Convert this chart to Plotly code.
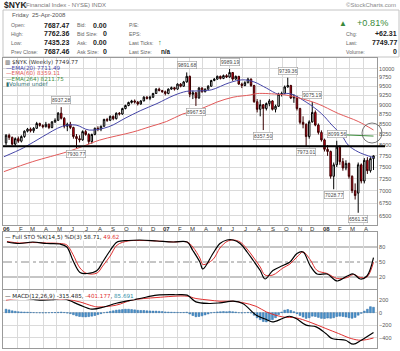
import numpy as np
import pandas as pd
import plotly.graph_objects as go

# ---------------- data ----------------
week = pd.date_range('2006-01-06', periods=121, freq='7D')

open_ = [8050, 8230, 8180, 8020, 8150, 8090, 8200, 8330, 8380, 8340, 8400, 8520, 8470,
         8440, 8500, 8420, 8560, 8600, 8780, 8650, 8450, 8500, 8420, 8200, 8150, 8120,
         8320, 8250, 8080, 8250, 8400, 8380, 8450, 8620, 8600, 8700, 8640, 8780, 8760,
         8900, 8980, 9060, 9100, 9070, 9020, 9100, 9200, 9170, 9200, 9300, 9420, 9380,
         9350, 9300, 9420, 9460, 9420, 9560, 9500, 9620, 9780, 9280, 9320, 9180, 9450,
         9350, 9420, 9500, 9660, 9700, 9780, 9720, 9800, 9760, 9890, 9700, 9780, 9560,
         9520, 9600, 9700, 9520, 9080, 8880, 9000, 8900, 9030, 9100, 8880, 8960, 9280,
         9300, 9480, 9520, 9180, 9200, 8900, 8550, 8500, 8200, 8560, 8800, 8480, 8300,
         8120, 7900, 7850, 7300, 7550, 7950, 7620, 7480, 7580, 7300, 7000, 6950, 7550,
         7200, 7650, 7420, 7687.47]
high = [8260, 8270, 8200, 8180, 8200, 8230, 8350, 8410, 8420, 8430, 8560, 8540, 8500,
        8560, 8520, 8580, 8650, 8810, 8937.28, 8680, 8540, 8560, 8440, 8260, 8230, 8350,
        8360, 8280, 8270, 8420, 8450, 8470, 8640, 8660, 8720, 8720, 8800, 8810, 8920,
        9000, 9080, 9130, 9140, 9100, 9120, 9230, 9230, 9240, 9320, 9450, 9460, 9400,
        9380, 9440, 9490, 9480, 9580, 9590, 9650, 9891.68, 9800, 9380, 9340, 9480, 9470,
        9440, 9530, 9680, 9730, 9800, 9800, 9830, 9840, 9989.19, 9900, 9800, 9790, 9600,
        9640, 9740, 9720, 9540, 9150, 9130, 9020, 9060, 9150, 9120, 9000, 9320, 9350,
        9520, 9739.36, 9540, 9280, 9240, 8920, 8700, 8520, 8600, 9075.19, 8850, 8520, 8350,
        8150, 8000, 7870, 7600, 8099.56, 7990, 7700, 7650, 7600, 7320, 7150, 7600, 7580,
        7700, 7720, 7720, 7762.36]
low = [8000, 8120, 7990, 7980, 8050, 8060, 8170, 8300, 8300, 8290, 8390, 8440, 8400,
       8420, 8380, 8400, 8530, 8580, 8620, 8400, 8330, 8380, 8150, 7930.77, 8060, 8100,
       8220, 8020, 8030, 8230, 8330, 8330, 8440, 8560, 8580, 8600, 8620, 8720, 8740,
       8880, 8960, 9030, 9030, 8980, 9000, 9090, 9140, 9120, 9180, 9290, 9360, 9320,
       9250, 9280, 9400, 9380, 9400, 9470, 9490, 9600, 9200, 9150, 8967.50, 9160, 9320,
       9330, 9400, 9490, 9640, 9680, 9690, 9700, 9730, 9740, 9650, 9680, 9540, 9450,
       9500, 9580, 9480, 9050, 8800, 8700, 8357.50, 8850, 8960, 8850, 8800, 8940, 9220,
       9280, 9460, 9150, 9050, 8850, 8500, 8400, 7973.01, 8150, 8540, 8450, 8250, 8080,
       7850, 7750, 7250, 7028.77, 7500, 7550, 7420, 7430, 7250, 6950, 6820, 6561.32, 7150,
       7150, 7350, 7380, 7435.23]
close = [8230, 8180, 8020, 8150, 8090, 8200, 8330, 8380, 8340, 8400, 8520, 8470, 8440,
         8500, 8420, 8560, 8600, 8780, 8650, 8450, 8500, 8420, 8200, 8150, 8120, 8320,
         8250, 8080, 8250, 8400, 8380, 8450, 8620, 8600, 8700, 8640, 8780, 8760, 8900,
         8980, 9060, 9100, 9070, 9020, 9100, 9200, 9170, 9200, 9300, 9420, 9380, 9350,
         9300, 9420, 9460, 9420, 9560, 9500, 9620, 9780, 9280, 9320, 9180, 9450, 9350,
         9420, 9500, 9660, 9700, 9780, 9720, 9800, 9760, 9890, 9700, 9780, 9560, 9520,
         9600, 9700, 9520, 9080, 8880, 9000, 8900, 9030, 9100, 8880, 8960, 9280, 9300,
         9480, 9520, 9180, 9200, 8900, 8550, 8500, 8200, 8560, 8800, 8480, 8300, 8120,
         7900, 7850, 7300, 7550, 7950, 7620, 7480, 7580, 7300, 7000, 6900, 7550, 7200,
         7650, 7420, 7687.46, 7749.77]

ema20_dates = ['2006-01-01', '2006-02-15', '2006-03-31', '2006-05-15', '2006-06-15', '2006-07-15',
               '2006-08-29', '2006-10-05', '2006-11-10', '2006-12-17', '2007-01-25', '2007-02-23',
               '2007-03-20', '2007-04-20', '2007-06-01', '2007-07-01', '2007-07-27', '2007-08-24',
               '2007-09-21', '2007-10-16', '2007-11-23', '2007-12-28', '2008-01-21', '2008-02-12',
               '2008-02-27', '2008-03-21', '2008-04-25']
ema20 = [7730, 7935, 8200, 8450, 8480, 8357, 8440, 8650, 8850, 9030, 9250, 9360,
         9370, 9400, 9600, 9680, 9620, 9450, 9280, 9300, 9070, 8770, 8480, 8235,
         8000, 7840, 7711.49]

ema60_dates = ['2006-01-01', '2006-03-08', '2006-05-25', '2006-07-01', '2006-08-08', '2006-10-23',
               '2006-12-01', '2007-01-08', '2007-02-14', '2007-03-25', '2007-05-03', '2007-06-09',
               '2007-07-18', '2007-08-03', '2007-09-24', '2007-10-16', '2007-12-16', '2008-02-05',
               '2008-03-21', '2008-04-25']
ema60 = [7400, 7620, 7840, 7970, 8116, 8310, 8440, 8570, 8760, 8880, 9070, 9200,
         9260, 9300, 9275, 9240, 9040, 8770, 8570, 8359.11]

ema264_dates = ['2008-02-08', '2008-03-07', '2008-04-04', '2008-04-25']
ema264 = [8245, 8235, 8222, 8211.75]

sto_dates = ['2006-01-08', '2006-02-06', '2006-03-08', '2006-04-09', '2006-05-09', '2006-05-25',
             '2006-06-08', '2006-06-24', '2006-07-10', '2006-08-02', '2006-08-15', '2006-09-01',
             '2006-09-17', '2006-10-12', '2006-11-08', '2006-12-17', '2007-01-23', '2007-02-24',
             '2007-03-09', '2007-03-25', '2007-04-01', '2007-04-24', '2007-05-10', '2007-05-26',
             '2007-06-09', '2007-06-25', '2007-07-11', '2007-07-25', '2007-08-10', '2007-08-21',
             '2007-09-08', '2007-10-01', '2007-10-17', '2007-11-02', '2007-11-16', '2007-12-02',
             '2007-12-18', '2008-01-10', '2008-02-02', '2008-02-25', '2008-03-10', '2008-03-26',
             '2008-04-10', '2008-04-25']
sto_k = [90, 87, 90, 87, 86, 80, 53, 29, 27, 33, 50, 73, 90, 93, 94, 92, 90, 90,
         73, 50, 36, 67, 87, 94, 94, 87, 70, 53, 33, 16, 33, 43, 50, 67, 70, 43,
         26, 26, 12, 22, 26, 16, 22, 58.71]
sto_d = [91, 88, 89, 88, 87, 84, 65, 38, 27, 28, 42, 62, 84, 92, 93, 92, 90, 90,
         80, 58, 45, 55, 78, 91, 94, 90, 76, 60, 40, 24, 24, 38, 46, 60, 70, 55,
         33, 27, 17, 19, 25, 19, 20, 49.62]

macd_dates = ['2006-01-06', '2006-02-06', '2006-03-24', '2006-04-20', '2006-05-12', '2006-05-26',
              '2006-06-24', '2006-07-21', '2006-08-18', '2006-09-15', '2006-11-08', '2006-12-17',
              '2007-01-29', '2007-02-24', '2007-03-16', '2007-04-15', '2007-05-10', '2007-06-09',
              '2007-07-01', '2007-08-01', '2007-08-24', '2007-09-07', '2007-09-30', '2007-10-16',
              '2007-10-31', '2007-11-23', '2007-12-16', '2008-01-07', '2008-01-21', '2008-02-05',
              '2008-02-21', '2008-03-10', '2008-03-28', '2008-04-25']
macd = [255, 240, 200, 205, 225, 205, 120, 56, 90, 150, 225, 278, 285, 278, 171, 146,
        156, 182, 146, -40, -108, -146, -92, -56, -92, -198, -225, -330, -410, -425,
        -437, -500, -437, -315.485]
signal_dates = ['2006-01-06', '2006-02-06', '2006-03-24', '2006-04-20', '2006-05-25', '2006-06-24',
                '2006-07-21', '2006-08-02', '2006-09-15', '2006-10-20', '2006-12-17', '2007-02-24',
                '2007-03-16', '2007-04-15', '2007-05-10', '2007-06-09', '2007-07-01', '2007-08-01',
                '2007-08-24', '2007-09-30', '2007-10-31', '2007-11-30', '2008-01-07', '2008-02-05',
                '2008-03-05', '2008-03-28', '2008-04-25']
signal = [200, 225, 215, 210, 210, 170, 110, 92, 120, 198, 241, 262, 225, 200, 182, 182,
          160, 100, 13, -67, -82, -146, -251, -330, -410, -437, -401.177]
hist = [55, 45, 30, 22, 15, 12, 10, 8, 5, 2, 0, -2, -3, -2, 0, 2, 3, 6, 10, 4, -6,
        -15, -32, -50, -60, -65, -67, -62, -55, -45, -30, -15, 0, 10, 20, 30, 40, 45, 50,
        55, 55, 50, 45, 38, 35, 35, 30, 28, 25, 25, 22, 18,
        12, 10, 8, 6, 5, 3, 4, 8, -20, -45, -65, -60, -50, -35, -20, -5, 5, 12, 15, 18, 15,
        20, 15, 10, 0, -5, 0, 5, -5, -40, -80, -110, -140, -146, -120, -110, -80, -30, 10,
        40, 50, 35, 15, -15, -45, -70, -90, -80, -55, -60, -75, -90,
        -92, -85, -88, -80, -60, -55, -60, -70, -80, -88, -75, -40, -10, 25, 55, 95, 85.691]

price_ticks = [6500, 6750, 7000, 7250, 7500, 7750, 8000, 8250, 8500, 8750, 9000, 9250,
               9500, 9750, 10000]
support_level = 7973.01

month_starts = pd.date_range('2006-01-01', periods=28, freq='MS')
month_labels = ['06', 'F', 'M', 'A', 'M', 'J', 'J', 'A', 'S', 'O', 'N', 'D',
                '07', 'F', 'M', 'A', 'M', 'J', 'J', 'A', 'S', 'O', 'N', 'D',
                '08', 'F', 'M', 'A']

# labelled extreme values: (week index, value, above?)
extremes = [(18, 8937.28, True), (23, 7930.77, False), (59, 9891.68, True), (62, 8967.50, False),
            (73, 9989.19, True), (84, 8357.50, False), (92, 9739.36, True), (100, 9075.19, True),
            (98, 7973.01, False), (108, 8099.56, True), (107, 7028.77, False), (115, 6561.32, False)]

# ---------------- figure ----------------
W, H = 400, 351
ML, MR, MT, MB = 3, 23, 58, 3
PW, PH = W - ML - MR, H - MT - MB


def px(X):
    return (X - ML) / PW


def py(Y):
    return (H - MB - Y) / PH


RED = '#e8001c'
EMA20C = '#4646a8'
EMA60C = '#e25a5a'
EMA264C = '#3f8f3f'
GRID = '#dadada'

fig = go.Figure()

fig.add_trace(go.Candlestick(
    x=week, open=open_, high=high, low=low, close=close,
    increasing=dict(line=dict(color='#000000', width=1), fillcolor='#ffffff'),
    decreasing=dict(line=dict(color='#3a0000', width=1), fillcolor=RED),
    whiskerwidth=0, xaxis='x', yaxis='y', hoverinfo='skip', showlegend=False))
fig.add_trace(go.Scatter(x=ema20_dates, y=ema20, mode='lines', line=dict(color=EMA20C, width=1, shape='spline'),
                         xaxis='x', yaxis='y', hoverinfo='skip'))
fig.add_trace(go.Scatter(x=ema60_dates, y=ema60, mode='lines', line=dict(color=EMA60C, width=1, shape='spline'),
                         xaxis='x', yaxis='y', hoverinfo='skip'))
fig.add_trace(go.Scatter(x=ema264_dates, y=ema264, mode='lines', line=dict(color=EMA264C, width=1),
                         xaxis='x', yaxis='y', hoverinfo='skip'))

fig.add_trace(go.Scatter(x=sto_dates, y=sto_d, mode='lines', line=dict(color='#e03030', width=1, shape='spline'),
                         xaxis='x2', yaxis='y2', hoverinfo='skip'))
fig.add_trace(go.Scatter(x=sto_dates, y=sto_k, mode='lines', line=dict(color='#000000', width=1.2, shape='spline'),
                         xaxis='x2', yaxis='y2', hoverinfo='skip'))

fig.add_trace(go.Bar(x=week, y=hist, marker=dict(color='#4b93cc', line=dict(color='#2a6aa5', width=0.5)),
                     xaxis='x3', yaxis='y3', hoverinfo='skip'))
fig.add_trace(go.Scatter(x=signal_dates, y=signal, mode='lines', line=dict(color='#e03030', width=1, shape='spline'),
                         xaxis='x3', yaxis='y3', hoverinfo='skip'))
fig.add_trace(go.Scatter(x=macd_dates, y=macd, mode='lines', line=dict(color='#000000', width=1.2, shape='spline'),
                         xaxis='x3', yaxis='y3', hoverinfo='skip'))

xcommon = dict(type='date', range=['2005-12-30', '2008-05-03'], showgrid=True, gridcolor=GRID,
               gridwidth=1, tick0='2006-01-01', dtick='M1', showticklabels=False, ticks='',
               showline=True, linecolor='#9a9a9a', linewidth=1, mirror=True, zeroline=False,
               rangeslider=dict(visible=False), fixedrange=True)
axfont = dict(family='Liberation Sans', size=5.5, color='#555555')

fig.update_layout(
    width=W, height=H, margin=dict(l=ML, r=MR, t=MT, b=MB, pad=0),
    paper_bgcolor='white', plot_bgcolor='white', showlegend=False,
    font=dict(family='Liberation Sans', size=6, color='#444444'),
    bargap=0.4,
    xaxis=dict(domain=[0, 1], anchor='y', **xcommon),
    xaxis2=dict(domain=[0, 1], anchor='y2', **xcommon),
    xaxis3=dict(domain=[0, 1], anchor='y3', **xcommon),
    yaxis=dict(domain=[py(225), 1], type='log', range=[np.log10(6331), np.log10(10318)],
               tickvals=price_ticks, ticktext=[str(v) for v in price_ticks], side='right',
               showgrid=True, gridcolor=GRID, showline=True, linecolor='#9a9a9a', mirror=True,
               ticks='', tickfont=axfont, zeroline=False, fixedrange=True),
    yaxis2=dict(domain=[py(289), py(232)], range=[-4, 110], tickvals=[20, 50, 80], side='right',
                showgrid=False, showline=True, linecolor='#9a9a9a', mirror=True, ticks='',
                tickfont=axfont, zeroline=False, fixedrange=True),
    yaxis3=dict(domain=[0, py(290)], range=[-560, 360], tickvals=[-400, -200, 0, 200], side='right',
                showgrid=True, gridcolor=GRID, showline=True, linecolor='#9a9a9a', mirror=True,
                ticks='', tickfont=axfont, zeroline=False, fixedrange=True),
)

shapes = []
# STO reference lines
for lvl, dash in [(80, 'solid'), (50, 'dashdot'), (20, 'solid')]:
    shapes.append(dict(type='line', xref='x2 domain', yref='y2', x0=0, x1=1, y0=lvl, y1=lvl,
                       line=dict(color='#8c8c8c', width=1, dash=dash), layer='below'))
# support line
shapes.append(dict(type='line', xref='paper', yref='y', x0=0, x1=px(385), y0=support_level,
                   y1=support_level, line=dict(color='#000000', width=2)))
# circle highlight
shapes.append(dict(type='circle', xref='paper', yref='paper', x0=px(362), x1=px(382),
                   y0=py(143), y1=py(123), line=dict(color='#555555', width=0.8)))
# header info box
shapes.append(dict(type='rect', xref='paper', yref='paper', x0=px(3), x1=px(399), y0=py(57),
                   y1=py(10), line=dict(color='#c4c4c4', width=1), fillcolor='white', layer='below'))
fig.update_layout(shapes=shapes)

ann = []


def txt(X, Y, s, size=6, color='#444444', anchor='left', family='Liberation Sans', bg=None, pad=1):
    d = dict(xref='paper', yref='paper', x=px(X), y=py(Y), text=s, showarrow=False,
             xanchor=anchor, yanchor='middle', font=dict(family=family, size=size, color=color),
             borderpad=pad)
    if bg:
        d['bgcolor'] = bg
        d['borderpad'] = 0
    ann.append(d)


# header
LBL = 5.2
VAL = 7.0
txt(2, 5, '<b>$NYK</b>', 8.5, '#222222')
txt(22, 5.5, '(Financial Index - NYSE) INDX', 6, '#777777')
txt(398, 5, '©StockCharts.com', 6, '#888888', 'right')
txt(10, 15.5, 'Friday  25-Apr-2008', 6, '#555555')
rows = [(25, 'Open:', '7687.47', 'Bid:', '0.00', 'P/E:'),
        (33.5, 'High:', '7762.36', 'Bid Size:', '0', 'EPS:'),
        (42.5, 'Low:', '7435.23', 'Ask:', '0.00', 'Last Ticks:'),
        (51.5, 'Prev Close:', '7687.46', 'Ask Size:', '0', 'Last Size:')]
for Y, l1, v1, l2, v2, l3 in rows:
    txt(10, Y, l1, LBL, '#666666', pad=0)
    txt(70, Y, '<b>' + v1 + '</b>', VAL, '#222222', 'right', pad=0)
    txt(76, Y, l2, LBL, '#666666', pad=0)
    txt(108, Y, '<b>' + v2 + '</b>', VAL, '#222222', 'right', pad=0)
    txt(128, Y, l3, LBL, '#666666', pad=0)
txt(157, 42.5, '<b>↑</b>', 7.5, '#2f7a2f', pad=0)
txt(160, 51.5, '<b>n/a</b>', 6.3, '#222222', pad=0)
txt(337, 23, '▲', 8, '#3a8a3a')
txt(390, 23, '+0.81%', 9.2, '#3a8a3a', 'right')
for Y, l, v in [(33.5, 'Chg:', '+62.31'), (42.5, 'Last:', '7749.77'), (51.5, 'Volume:', '0')]:
    txt(345, Y, l, LBL, '#666666', pad=0)
    txt(398, Y, '<b>' + v + '</b>', VAL, '#222222', 'right', pad=0)

# panel legends
LF = 'DejaVu Sans'
txt(4, 62, '▥ $NYK (Weekly) 7749.77', 5.6, '#333333', family=LF, pad=0)
txt(5, 67.5, '—EMA(20) 7711.49', 5.6, EMA20C, family=LF, pad=0)
txt(5, 73, '—EMA(60) 8359.11', 5.6, EMA60C, family=LF, pad=0)
txt(5, 78.5, '—EMA(264) 8211.75', 5.6, EMA264C, family=LF, pad=0)
txt(5, 84, '▮Volume undef', 5.6, '#2e7070', family=LF, pad=0)
txt(4, 237, "— Full STO %K(14,5) %D(3) 58.71, <span style='color:#e03030'>49.62</span>",
    5.6, '#222222', family=LF, bg='white')
txt(4, 295.5, "— MACD(12,26,9) -315.485, <span style='color:#e03030'>-401.177</span>, "
    "<span style='color:#2f8fa8'>85.691</span>", 5.6, '#222222', family=LF, bg='white')

# month labels
for d, lab in zip(month_starts, month_labels):
    s = '<b>' + lab + '</b>' if lab.isdigit() else lab
    ann.append(dict(xref='x', yref='paper', x=d + pd.Timedelta(days=7), y=py(228.5), text=s,
                    showarrow=False, xanchor='center', yanchor='middle',
                    font=dict(family='Liberation Sans', size=6, color='#333333')))

# extreme value labels
for i, v, above in extremes:
    ann.append(dict(xref='x', yref='y', x=week[i], y=np.log10(v), text='%.2f' % v,
                    showarrow=False, xanchor='center', yanchor='middle',
                    yshift=7 if above else -6,
                    font=dict(family='Liberation Sans', size=5, color='#444444'),
                    bgcolor='white', bordercolor='#9a9a9a', borderwidth=0.6, borderpad=0.5))

fig.update_layout(annotations=ann)
fig.write_html('out.html', include_plotlyjs=True, config=dict(staticPlot=True))
